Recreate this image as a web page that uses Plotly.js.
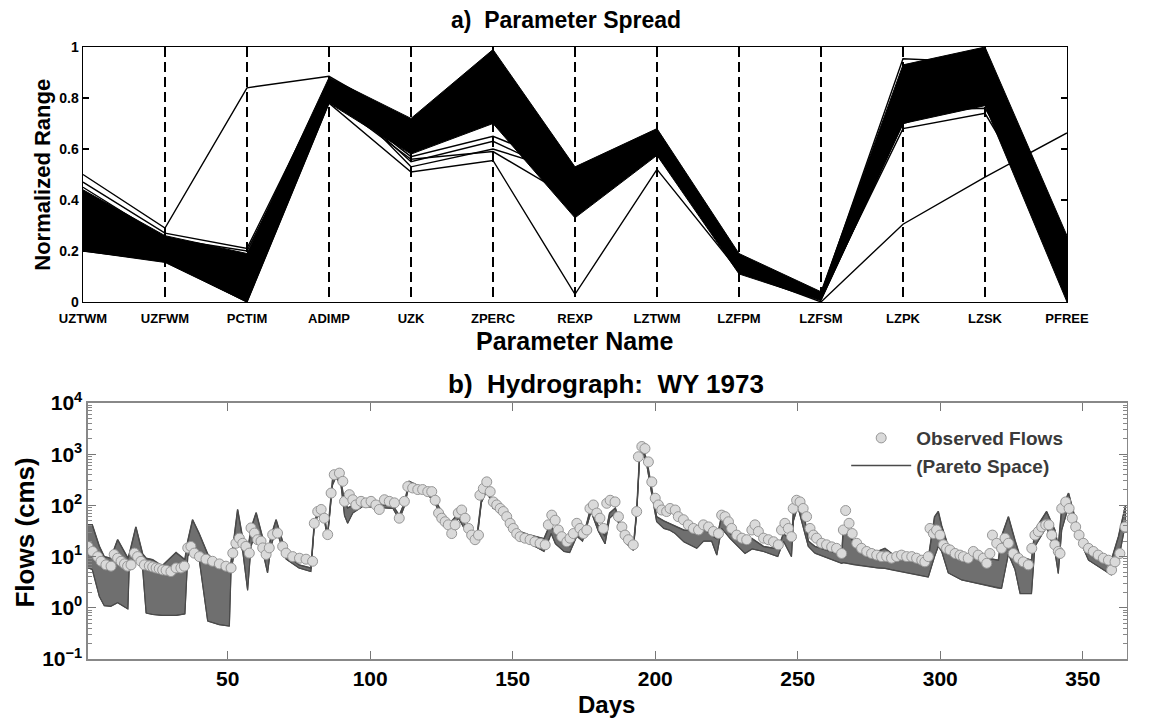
<!DOCTYPE html>
<html><head><meta charset="utf-8">
<script src="https://cdn.plot.ly/plotly-3.0.1.min.js"></script>
<style>html,body{margin:0;padding:0;background:#fff}</style>
</head><body><div id="chart" style="width:1156px;height:720px"></div>
<script>
// ---------- Panel a: parameter spread ----------
const paramNames = ['UZTWM','UZFWM','PCTIM','ADIMP','UZK','ZPERC','REXP','LZTWM','LZFPM','LZFSM','LZPK','LZSK','PFREE'];
const spreadHigh = [0.44, 0.26, 0.19, 0.88, 0.72, 0.99, 0.53, 0.68, 0.19, 0.04, 0.93, 1.00, 0.26];
const spreadLow  = [0.20, 0.155, 0.00, 0.78, 0.58, 0.70, 0.33, 0.575, 0.11, 0.005, 0.70, 0.77, 0.00];
const solutionA = [0.50, 0.29, 0.84, 0.885, 0.70, 0.95, 0.45, 0.65, 0.16, 0.02, 0.85, 0.90, 0.10];
const solutionB = [0.20, 0.16, 0.00, 0.78, 0.51, 0.555, 0.03, 0.52, 0.12, 0.00, 0.305, 0.49, 0.663];
const solutionC = [0.47, 0.27, 0.21, 0.86, 0.53, 0.60, 0.50, 0.60, 0.15, 0.02, 0.68, 0.74, 0.20];
const solutionD = [0.45, 0.25, 0.20, 0.84, 0.55, 0.63, 0.48, 0.62, 0.17, 0.03, 0.954, 0.94, 0.15];
const solutionE = [0.40, 0.22, 0.18, 0.82, 0.57, 0.65, 0.52, 0.66, 0.18, 0.01, 0.70, 0.80, 0.05];
const solutionF = [0.30, 0.20, 0.10, 0.80, 0.56, 0.59, 0.40, 0.58, 0.13, 0.02, 0.75, 0.76, 0.22];
const yTickVals = [0, 0.2, 0.4, 0.6, 0.8, 1];
const yTickText = ['0', '0.2', '0.4', '0.6', '0.8', '1'];

// ---------- Panel b: hydrograph WY 1973 ----------
const bandDay = [1,2.5,5,6.7,9,11.4,15,15.5,17.8,20.2,21.4,23.7,27,31.9,35,36,37.7,40,43,47,50.6,51.2,53.5,55.3,57,58.2,60,62.3,64,65.2,67,70.5,75,79.2,80.4,81.6,84,85,86.8,88,89.8,91,92.1,93.9,97.4,102,108,110.2,112,113.7,117,122,124,128,131,133,136,137.5,139,141,143,146,149,152,156,161,162.5,163.5,165,168,170,172.5,174.5,176,177.5,180,182.4,184,186,188,190,192.3,193.5,194.5,195.5,197,198.5,200.5,203,205,207,210,214.6,217,219.8,221.6,223.3,226.3,231.5,234,238,243,245,247.8,248.5,250,252.5,253.7,256,265.4,266,270,278,280.6,283,295.8,298,299.3,300.5,302.8,307.5,320.4,321.5,323.9,326.2,328,332,333.2,337.3,340.2,341.4,342.6,345,348.4,352,360,362.5,365];
const bandUpper = [41.7,41.7,15.8,10,9.3,21.4,9.3,11.2,38,11.2,9.3,8.7,6.6,12,8.7,20,52.5,28.2,11.2,6.9,6.0,7.9,83,22.4,12.6,35.5,72,22.4,10,25,52.5,11.7,6.9,6.0,44.7,76,60,25,316,427,282,120,89,100,112,105,100,63,112,295,240,158,95.5,44.7,70.8,44.7,28.2,26.3,126,251,112,89,44.7,31.6,26.3,22.4,35.5,39.8,28.2,17.8,15.8,31.6,25,44.7,95.5,39.8,25,70.8,89,39.8,22.4,15.1,79,891,1318,794,282,60,50,44.7,39.8,33,31.6,35.5,26.3,22.4,63,28.2,17.8,22.4,15.8,14.1,28.2,20,79,126,52.5,20,15.8,10.7,35.5,18.2,12.6,14.5,11.5,9.3,60,76,39.8,15.8,11.5,8.5,25,60,20.9,10,8.5,33,76,33,15.8,87,174,33,13.5,8.5,24.5,100];
const bandLower = [6.0,5.6,1.66,1.1,1.07,1.26,0.95,7.1,10,5.6,0.79,0.74,0.71,0.71,0.76,10,15.8,8.9,0.55,0.47,0.44,5.5,25,12.6,2.2,15.8,31.6,12.6,4.8,15.8,34,8.9,6.0,5.1,39.8,63,50,22.4,251,355,240,63,44.7,70.8,95.5,93,87,52.5,95.5,251,209,132,79,35.5,56,35.5,22.4,21.4,112,200,89,70.8,35.5,24,17.8,12.6,20,28.2,17.8,12.6,12,25,20,39.8,76,31.6,17.8,56,70.8,31.6,17.8,13.2,70.8,794,1122,631,200,48,35.5,33,28.2,19.5,14.5,20,20,10.7,35.5,22.4,11.5,14.1,12.6,10,20,10,50,95.5,28.2,15.8,11.7,7.4,7.6,6.9,6.0,5.9,5.5,4.0,10,15.8,12.6,4.8,3.5,2.4,2.4,11.2,5.6,1.9,1.9,15.8,38,12.6,4.7,33,95.5,24.5,8.5,4.4,8.5,44.7];
const obsDay = [1,2.6,4.4,5.6,7.3,9.1,10.2,11.4,12.6,13.8,14.9,16.1,17.3,18.4,19.6,20.8,22.5,23.7,24.9,26,27.2,28.4,30.1,31.9,33.6,34.8,36,37.1,38.3,40.1,42.4,44.7,47.1,49.4,51.2,51.8,52.9,54.1,55.3,56.4,57.6,58.2,59.4,60.5,61.7,62.3,63.5,64.6,65.8,67.5,69.3,70.5,72.8,75.2,77.5,79.8,80.4,81.6,82.8,83.9,85.1,86.3,87.4,89.2,90.4,91,92.7,93.9,95,96.8,98.5,100.3,102,103.2,105,106.7,108.5,110.2,112,113.2,114.9,116.7,118.4,120.2,121.6,122.8,124,125.1,126.3,127.4,128.6,129.8,130.9,132.1,133.3,134.5,135.6,136.8,138,138.5,139.7,140.9,142.1,143.2,144.4,145.6,146.7,147.9,149.1,150.2,151.4,152.6,154.3,156.1,157.8,159.6,161.4,162.5,163.7,164.9,166,167.2,169,170.1,171.3,172.5,173.6,174.8,176,177.1,178.3,179.5,180.6,181.8,183,184.2,185.9,187.1,188.3,189.4,190.6,192.3,193.5,194.1,195.3,196.4,197.6,198.8,200,201.1,202.3,204,205.2,207,208.1,209.9,211.6,213.4,215.2,216.9,218.7,220.4,222.2,223.3,224.5,225.7,226.8,228.6,230.4,232.1,233.9,235,236.2,238,239.7,241.5,243.2,244.3,245.5,246.7,247.8,248.4,249.6,250.8,251.9,253.1,254.3,255.5,256.6,258.4,260.1,261.9,263.6,265.4,266,266.8,268,269.1,270.7,272.4,274.2,275.9,277.7,279.4,281.2,282.9,284.7,286.4,288.2,290,291.7,293.5,294.6,295.8,296.4,297.6,298.7,299.9,301.1,302.2,303.4,305.2,306.9,308.1,309.8,311.6,313.3,315.1,316.3,317.4,318.3,319.8,321.5,322.7,323.9,325.6,327.4,329.1,330.9,332.1,333.2,334.4,335.6,337,338.1,339.1,340.2,341.4,342,342.6,344,345.2,346.3,347.5,348.7,350.2,352,353.7,355.4,357.2,359,360.1,361.3,363,364.8];
const obsFlow = [15.8,12.6,10,8.1,6.9,6.5,11,9.3,8.1,7.2,6.5,6.9,11.7,10,8.1,6.9,6.6,6.3,6.0,5.8,5.5,5.4,5.1,6.0,6.0,6.5,14.8,15.8,11.7,10,8.9,8.1,7.2,6.5,6.0,11.7,18.2,22.9,18.2,15.8,11.7,36.3,28.8,21.4,20,14.8,11,14.8,26.9,28.8,15.8,11.7,10,9.3,8.9,8.1,44.7,75.9,83.2,56.2,26.9,174,398,427,295,120,162,129,102,120,112,120,102,83.2,129,120,112,56.2,120,234,219,204,204,186,186,126,70.8,56.2,47.9,41.7,28.2,41.7,70.8,81.3,56.2,35.5,26.3,21.4,26.3,158,214,288,186,117,102,87.1,75.9,60.3,44.7,35.5,28.2,24.5,22.9,21.4,19.5,18.2,17,41.7,64.6,51.3,33.1,24.5,19.5,22.9,28.2,44.7,35.5,28.2,33.1,87.1,102,70.8,56.2,35.5,110,126,117,60.3,38,26.3,21.4,17,75.9,891,1413,1288,708,288,138,102,81.3,75.9,87.1,81.3,60.3,52.5,41.7,35.5,33.1,41.7,38,30.9,28.2,64.6,60.3,47.9,35.5,26.3,22.9,21.4,33.1,41.7,30.9,22.9,21.4,19.5,17,33.1,44.7,35.5,24.5,87.1,126,117,87.1,60.3,35.5,26.3,22.9,18.2,17,15.5,14.5,11.5,33.1,79.4,44.7,28.2,18.2,14.5,12.6,11.5,10.7,10,10,9.3,10,10.7,10,10,9.3,8.5,7.9,10,35.5,28.2,33.1,26.3,17,14.5,13.5,11.5,10.7,10,9.3,12.6,10.7,9.3,7.4,11.5,26.3,18.2,14.5,22.9,18.2,11.5,9.3,7.9,6.9,14.5,26.3,30.9,38,41.7,41.7,26.3,17,12.6,11.5,87.1,117,87.1,56.2,38,26.3,18.2,14.5,12.6,10.7,9.3,8.5,5.5,7.9,11.5,38];
const dayTicks = [50, 100, 150, 200, 250, 300, 350];
const flowTicks = [0.1, 1, 10, 100, 1000, 10000];
const flowTickText = ['10<sup>\u22121</sup>', '10<sup>0</sup>', '10<sup>1</sup>', '10<sup>2</sup>', '10<sup>3</sup>', '10<sup>4</sup>'];

const FONT = 'Liberation Sans, Arial, Helvetica, sans-serif';
const idx = paramNames.map((_, i) => i);

const traces = [];
// dense band of solutions (panel a)
traces.push({
  x: idx.concat(idx.slice().reverse()),
  y: spreadHigh.concat(spreadLow.slice().reverse()),
  xaxis: 'x', yaxis: 'y', type: 'scatter', mode: 'lines', fill: 'toself',
  fillcolor: '#000', line: {color: '#000', width: 1}, showlegend: false, hoverinfo: 'skip'
});
[solutionA, solutionB, solutionC, solutionD, solutionE, solutionF].forEach(s => {
  traces.push({x: idx, y: s, xaxis: 'x', yaxis: 'y', type: 'scatter', mode: 'lines',
    line: {color: '#000', width: 1.4}, showlegend: false});
});

// Pareto space band (panel b)
traces.push({
  x: bandDay.concat(bandDay.slice().reverse()),
  y: bandUpper.concat(bandLower.slice().reverse()),
  xaxis: 'x2', yaxis: 'y2', type: 'scatter', mode: 'lines', fill: 'toself',
  fillcolor: '#6f6f6f', line: {color: '#4d4d4d', width: 1}, showlegend: false, hoverinfo: 'skip'
});
traces.push({x: bandDay, y: bandUpper, xaxis: 'x2', yaxis: 'y2', type: 'scatter', mode: 'lines',
  name: '(Pareto Space)', line: {color: '#4a4a4a', width: 1.5}, showlegend: true, legendrank: 2});
traces.push({x: bandDay, y: bandLower, xaxis: 'x2', yaxis: 'y2', type: 'scatter', mode: 'lines',
  line: {color: '#4a4a4a', width: 1.2}, showlegend: false});
traces.push({x: obsDay, y: obsFlow, xaxis: 'x2', yaxis: 'y2', type: 'scatter', mode: 'markers',
  name: 'Observed Flows', legendrank: 1,
  marker: {symbol: 'circle', size: 10, color: '#dadada', line: {color: '#979797', width: 1}}});

const boldF = (size, color) => ({family: FONT, size: size, color: color || '#000', weight: 'bold'});

const layout = {
  width: 1156, height: 720, autosize: false,
  margin: {l: 0, r: 0, t: 0, b: 0},
  paper_bgcolor: '#fff', plot_bgcolor: '#fff',
  showlegend: true,
  legend: {x: 0.732, y: 0.418, xanchor: 'left', yanchor: 'top', bgcolor: 'rgba(0,0,0,0)',
    font: boldF(19, '#3a3a3a'), itemwidth: 60, tracegroupgap: 0},
  xaxis: {domain: [0.0718, 0.923], range: [0, 12], anchor: 'y',
    tickmode: 'array', tickvals: idx, ticktext: paramNames, tickfont: boldF(13),
    ticklabelstandoff: 4,
    showgrid: true, gridcolor: '#000', gridwidth: 1.5, griddash: '10px,5px',
    showline: true, linecolor: '#000', linewidth: 1.5, mirror: true, ticks: '', zeroline: false},
  yaxis: {domain: [0.5806, 0.9347], range: [0, 1], anchor: 'x',
    tickmode: 'array', tickvals: yTickVals, ticktext: yTickText, tickfont: boldF(14),
    ticks: 'inside', ticklen: 6, tickcolor: '#000', tickwidth: 1.2,
    showline: true, linecolor: '#000', linewidth: 1.5, mirror: 'ticks', showgrid: false, zeroline: false},
  xaxis2: {domain: [0.0761, 0.9749], range: [1, 365.5], anchor: 'y2',
    tickmode: 'array', tickvals: dayTicks, tickfont: boldF(21),
    ticks: 'inside', ticklen: 8, tickcolor: '#777', tickwidth: 1.3,
    showline: true, linecolor: '#888', linewidth: 1.5, mirror: 'ticks', showgrid: false, zeroline: false},
  yaxis2: {domain: [0.0847, 0.4403], type: 'log', range: [-1, 4], anchor: 'x2',
    tickmode: 'array', tickvals: flowTicks, ticktext: flowTickText, tickfont: boldF(21),
    ticks: 'inside', ticklen: 8, tickcolor: '#777', tickwidth: 1.3,
    minor: {ticks: 'inside', tickmode: 'linear', dtick: 'D1', ticklen: 4, tickcolor: '#888', tickwidth: 1, showgrid: false},
    showline: true, linecolor: '#888', linewidth: 1.5, mirror: 'ticks', showgrid: false, zeroline: false},
  annotations: [
    {text: 'a)  Parameter Spread', xref: 'paper', yref: 'paper', x: 0.49, y: 0.972, showarrow: false,
     xanchor: 'center', yanchor: 'middle', font: boldF(23)},
    {text: 'Parameter Name', xref: 'paper', yref: 'paper', x: 0.497, y: 0.527, showarrow: false,
     xanchor: 'center', yanchor: 'middle', font: boldF(25)},
    {text: 'Normalized Range', xref: 'paper', yref: 'paper', x: 0.037, y: 0.757, showarrow: false,
     xanchor: 'center', yanchor: 'middle', textangle: -90, font: boldF(22)},
    {text: 'b)  Hydrograph:  WY 1973', xref: 'paper', yref: 'paper', x: 0.524, y: 0.467, showarrow: false,
     xanchor: 'center', yanchor: 'middle', font: boldF(26)},
    {text: 'Days', xref: 'paper', yref: 'paper', x: 0.525, y: 0.021, showarrow: false,
     xanchor: 'center', yanchor: 'middle', font: boldF(24)},
    {text: 'Flows (cms)', xref: 'paper', yref: 'paper', x: 0.022, y: 0.261, showarrow: false,
     xanchor: 'center', yanchor: 'middle', textangle: -90, font: boldF(26)}
  ]
};

Plotly.newPlot('chart', traces, layout, {displayModeBar: false, staticPlot: true});
</script>
</body></html>
